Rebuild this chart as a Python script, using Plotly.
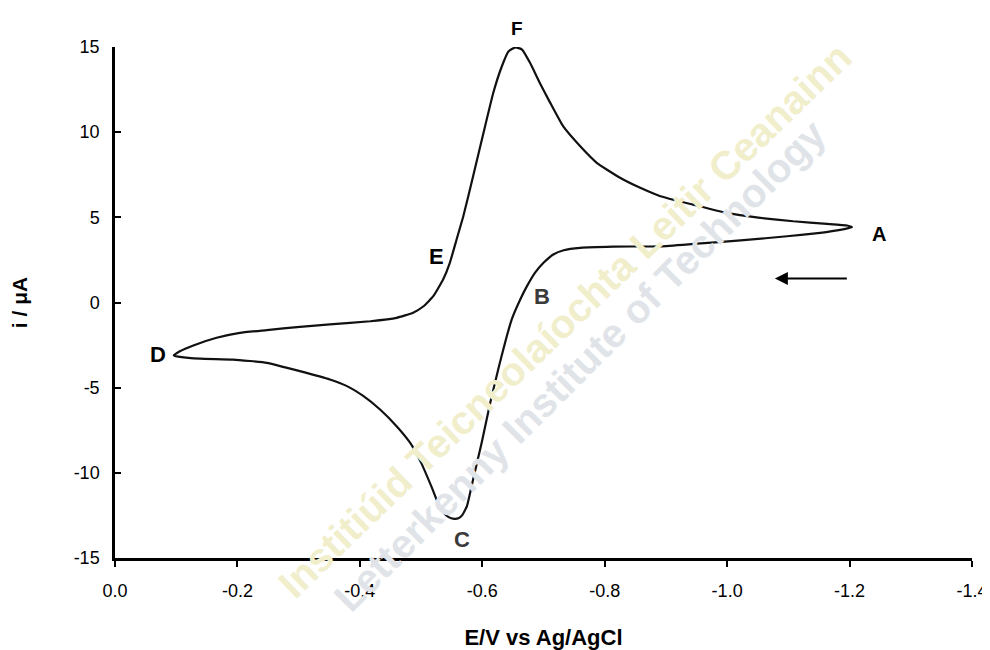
import plotly.graph_objects as go

# Cyclic voltammogram: scan A -> B -> C -> D -> E -> F -> A
potential = [-1.204, -1.187, -1.152, -1.098, -1.027, -0.945, -0.891, -0.814, -0.760,
             -0.733, -0.716, -0.700, -0.686, -0.673, -0.662, -0.648, -0.626, -0.613,
             -0.599, -0.585, -0.575, -0.567, -0.561, -0.554, -0.545, -0.536, -0.528,
             -0.518, -0.500,
             -0.482, -0.460, -0.433, -0.406, -0.379, -0.351, -0.302, -0.248, -0.193,
             -0.139, -0.106, -0.096,
             -0.106, -0.128, -0.166, -0.204, -0.248, -0.302, -0.351, -0.417, -0.460,
             -0.487, -0.504, -0.520, -0.536, -0.547, -0.558, -0.569, -0.585, -0.602,
             -0.618, -0.632, -0.643, -0.654, -0.665, -0.678, -0.694, -0.711, -0.732,
             -0.760, -0.787, -0.825, -0.858, -0.891, -0.944, -0.999, -1.054, -1.108,
             -1.163, -1.196, -1.204]
current = [4.42, 4.28, 4.09, 3.89, 3.66, 3.44, 3.30, 3.28, 3.21,
           3.07, 2.82, 2.33, 1.74, 0.96, 0.18, -1.00, -3.93, -5.89,
           -8.23, -10.39, -11.95, -12.50, -12.67, -12.70, -12.60, -12.30, -11.80,
           -10.90, -9.40,
           -8.23, -7.26, -6.28, -5.50, -4.91, -4.52, -4.03, -3.54, -3.35,
           -3.30, -3.19, -3.11,
           -2.86, -2.52, -2.07, -1.78, -1.62, -1.43, -1.29, -1.10, -0.90,
           -0.60, -0.22, 0.37, 1.35, 2.33, 3.70, 5.06, 7.41, 9.96,
           12.31, 13.87, 14.75, 14.98, 14.85, 14.07, 12.89, 11.72, 10.35,
           9.17, 8.20, 7.32, 6.73, 6.24, 5.75, 5.26, 4.97, 4.77,
           4.62, 4.52, 4.42]

x_ticks = [0.0, -0.2, -0.4, -0.6, -0.8, -1.0, -1.2, -1.4]
x_tick_labels = ["0.0", "-0.2", "-0.4", "-0.6", "-0.8", "-1.0", "-1.2", "-1.4"]
y_ticks = [15, 10, 5, 0, -5, -10, -15]
y_tick_labels = ["15", "10", "5", "0", "-5", "-10", "-15"]
y_min, y_max = -15, 15

point_labels = ["A", "B", "C", "D", "E", "F"]
label_x = [-1.248, -0.698, -0.567, -0.070, -0.526, -0.657]
label_y = [4.0, 0.35, -13.9, -3.05, 2.7, 16.1]
label_colors = ["#000000", "#3a3a3a", "#3a3a3a", "#000000", "#000000", "#000000"]
label_sizes = [20, 22, 22, 22, 22, 19]

arrow_tail = (-1.198, 1.41)
arrow_head = (-1.078, 1.41)

FONT = "Liberation Sans, Arial, Helvetica, sans-serif"

fig = go.Figure()

fig.add_trace(go.Scatter(
    x=potential, y=current, mode="lines",
    line=dict(color="#111111", width=2.2, shape="spline", smoothing=0.4),
    hoverinfo="skip", showlegend=False,
))

annotations = []
# faint scanned-document watermark
annotations.append(dict(
    text="<b>Institiúid Teicneolaíochta Leitir Ceanainn</b>",
    xref="paper", yref="paper", x=0.525, y=0.466, showarrow=False,
    xanchor="center", yanchor="middle",
    textangle=-44, font=dict(family=FONT, size=40, color="#f1eecc"),
))
annotations.append(dict(
    text="<b>Letterkenny Institute of Technology</b>",
    xref="paper", yref="paper", x=0.543, y=0.378, showarrow=False,
    xanchor="center", yanchor="middle",
    textangle=-45, font=dict(family=FONT, size=40, color="#e0e4e9"),
))

for t, xv, yv, c, s in zip(point_labels, label_x, label_y, label_colors, label_sizes):
    # use paper y so labels above the axis range are still shown
    annotations.append(dict(
        text=f"<b>{t}</b>", x=xv, y=(yv - y_min) / (y_max - y_min),
        xref="x", yref="paper", showarrow=False,
        xanchor="center", yanchor="middle",
        font=dict(family=FONT, size=s, color=c),
    ))

annotations.append(dict(
    x=arrow_head[0], y=arrow_head[1], ax=arrow_tail[0], ay=arrow_tail[1],
    xref="x", yref="y", axref="x", ayref="y", text="", showarrow=True,
    arrowhead=2, arrowsize=1.3, arrowwidth=2, arrowcolor="#000000",
))

fig.update_layout(
    width=982, height=642,
    margin=dict(l=107, r=18, t=39, b=92),
    paper_bgcolor="white", plot_bgcolor="rgba(0,0,0,0)",
    font=dict(family=FONT, size=18, color="#000000"),
    annotations=annotations,
    xaxis=dict(
        range=[0, -1.4], tickvals=x_ticks, ticktext=x_tick_labels,
        ticks="outside", ticklen=6, tickwidth=2, tickcolor="#000",
        showline=True, linecolor="#000", linewidth=2.5,
        showgrid=False, zeroline=False, automargin=False,
        title=dict(text="<b>E/V vs Ag/AgCl</b>", font=dict(size=22), standoff=30),
        tickfont=dict(size=18), ticklabelstandoff=9,
    ),
    yaxis=dict(
        range=[y_min, y_max], tickvals=y_ticks, ticktext=y_tick_labels,
        ticks="inside", ticklen=6, tickwidth=2, tickcolor="#000",
        showline=True, linecolor="#000", linewidth=2.5,
        showgrid=False, zeroline=False, automargin=False,
        title=dict(text="<b>i / μA</b>", font=dict(size=21), standoff=44),
        tickfont=dict(size=18), ticklabelstandoff=9,
    ),
)

fig.write_html("out.html")
